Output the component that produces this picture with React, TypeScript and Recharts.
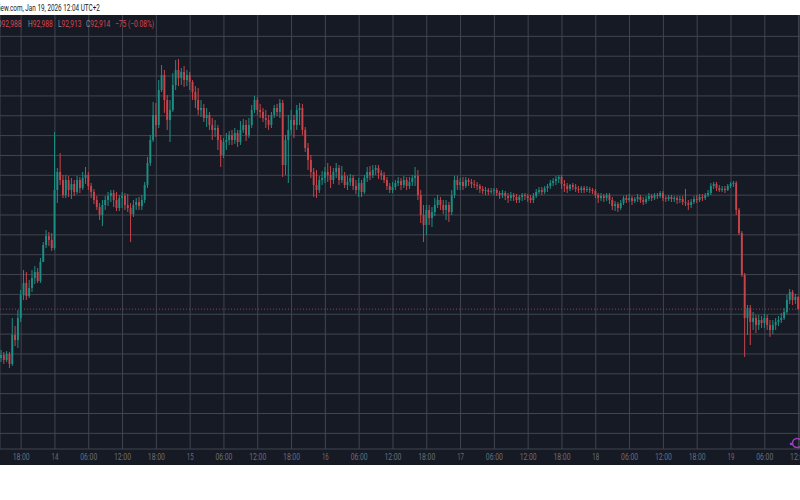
import React from 'react';
import { ComposedChart, Bar, XAxis, YAxis, CartesianGrid, ReferenceLine } from 'recharts';

// 30-minute candles, time in hours from Jan 13 18:00 (UTC+2)
const times: number[] = Array.from({ length: 284 }, (_, i) => -3.5 + 0.5 * i);

const opens = [
  92299, 92337, 92274, 92350, 92224, 92589, 92526, 92803, 93093, 93244,
  93080, 93181, 93307, 93383, 93269, 93509, 93722, 93835, 93785, 93684,
  94415, 94642, 94541, 94352, 94541, 94415, 94491, 94390, 94541, 94440,
  94566, 94604, 94465, 94390, 94289, 94201, 94100, 94226, 94289, 94339,
  94377, 94289, 94188, 94314, 94339, 94226, 94188, 94113, 94226, 94264,
  94213, 94289, 94478, 94755, 95045, 95360, 95234, 95674, 95863, 95549,
  95297, 95423, 95737, 95926, 95825, 95901, 95800, 95863, 95775, 95649,
  95549, 95423, 95448, 95322, 95360, 95234, 95171, 95196, 95045, 94856,
  95020, 95045, 95108, 95045, 95133, 95020, 95171, 95234, 95108, 95234,
  95423, 95549, 95423, 95398, 95322, 95297, 95234, 95360, 95448, 95398,
  95511, 94730, 95045, 95171, 95297, 95234, 95423, 95448, 95171, 94944,
  94793, 94642, 94478, 94415, 94541, 94566, 94642, 94604, 94541, 94642,
  94692, 94541, 94591, 94478, 94516, 94566, 94465, 94415, 94503, 94390,
  94566, 94642, 94604, 94667, 94692, 94629, 94604, 94541, 94465, 94415,
  94453, 94503, 94528, 94478, 94541, 94465, 94516, 94566, 94591, 94352,
  94100, 93974, 94163, 94062, 94138, 94226, 94289, 94226, 94163, 94226,
  94138, 94352, 94541, 94478, 94516, 94465, 94541, 94516, 94491, 94478,
  94465, 94428, 94402, 94415, 94390, 94402, 94415, 94377, 94352, 94377,
  94339, 94314, 94352, 94327, 94289, 94327, 94352, 94339, 94314, 94289,
  94339, 94390, 94415, 94390, 94440, 94465, 94503, 94528, 94554, 94579,
  94491, 94465, 94428, 94478, 94453, 94428, 94415, 94440, 94415, 94428,
  94415, 94402, 94352, 94314, 94339, 94314, 94352, 94289, 94213, 94239,
  94188, 94251, 94314, 94289, 94314, 94276, 94302, 94327, 94289, 94264,
  94302, 94339, 94314, 94352, 94339, 94377, 94314, 94302, 94327, 94302,
  94314, 94289, 94302, 94264, 94251, 94226, 94264, 94302, 94289, 94327,
  94314, 94352, 94377, 94465, 94491, 94440, 94415, 94428, 94415, 94465,
  94491, 94503, 94163, 93873, 93345, 92803, 92929, 92753, 92803, 92715,
  92778, 92740, 92803, 92715, 92652, 92715, 92753, 92778, 92803, 92879,
  93030, 93131, 93030, 93068,
];

const highs = [
  92400, 92375, 92387, 92375, 92803, 92702, 92904, 93156, 93408, 93383,
  93282, 93408, 93458, 93433, 93559, 93760, 93911, 93886, 93873, 95146,
  94692, 94881, 94604, 94604, 94591, 94566, 94541, 94591, 94579, 94642,
  94705, 94642, 94503, 94428, 94339, 94251, 94289, 94339, 94390, 94415,
  94415, 94390, 94352, 94390, 94377, 94365, 94251, 94289, 94314, 94327,
  94352, 94516, 94831, 95108, 95524, 95511, 95800, 95989, 95926, 95611,
  95549, 95888, 96052, 96065, 95951, 95976, 95926, 95901, 95800, 95724,
  95699, 95549, 95499, 95448, 95398, 95322, 95297, 95234, 95108, 95070,
  95133, 95158, 95171, 95196, 95171, 95284, 95310, 95297, 95322, 95486,
  95599, 95586, 95499, 95448, 95423, 95360, 95398, 95486, 95499, 95562,
  95549, 95108, 95360, 95423, 95360, 95486, 95511, 95499, 95209, 95007,
  94856, 94692, 94667, 94591, 94654, 94705, 94755, 94717, 94692, 94755,
  94730, 94717, 94642, 94591, 94617, 94604, 94541, 94566, 94541, 94604,
  94705, 94717, 94730, 94730, 94730, 94667, 94642, 94579, 94503, 94516,
  94541, 94579, 94566, 94591, 94579, 94579, 94604, 94705, 94667, 94415,
  94226, 94226, 94226, 94201, 94314, 94352, 94327, 94289, 94289, 94264,
  94415, 94591, 94591, 94566, 94579, 94579, 94566, 94554, 94541, 94516,
  94491, 94465, 94453, 94440, 94440, 94440, 94440, 94402, 94415, 94402,
  94377, 94390, 94377, 94365, 94352, 94377, 94377, 94365, 94352, 94377,
  94428, 94453, 94453, 94465, 94491, 94541, 94566, 94591, 94604, 94604,
  94541, 94503, 94491, 94503, 94491, 94465, 94465, 94465, 94465, 94453,
  94440, 94428, 94377, 94377, 94365, 94377, 94377, 94327, 94276, 94264,
  94289, 94339, 94352, 94365, 94339, 94327, 94365, 94352, 94327, 94339,
  94377, 94365, 94377, 94377, 94402, 94402, 94339, 94352, 94352, 94339,
  94339, 94339, 94339, 94428, 94289, 94302, 94339, 94352, 94365, 94365,
  94377, 94415, 94503, 94516, 94516, 94478, 94465, 94465, 94491, 94516,
  94528, 94528, 94188, 93898, 93370, 92967, 92967, 92879, 92841, 92841,
  92828, 92854, 92841, 92778, 92778, 92803, 92828, 92866, 92929, 93093,
  93169, 93156, 93106, 93080,
];

const lows = [
  92249, 92224, 92249, 92173, 92198, 92450, 92425, 92753, 93030, 93030,
  93055, 93131, 93232, 93244, 93244, 93597, 93684, 93710, 93647, 93660,
  94251, 94478, 94314, 94314, 94327, 94302, 94339, 94365, 94377, 94415,
  94491, 94415, 94314, 94239, 94163, 94037, 93961, 94163, 94213, 94264,
  94201, 94150, 94150, 94188, 94163, 94138, 93760, 94075, 94163, 94163,
  94163, 94251, 94440, 94717, 95020, 95083, 95196, 95649, 95386, 95171,
  95020, 95398, 95674, 95724, 95737, 95712, 95724, 95674, 95549, 95448,
  95360, 95335, 95272, 95209, 95171, 95045, 95083, 94919, 94705, 94818,
  94919, 94982, 94982, 94995, 94957, 94982, 95133, 95032, 95070, 95196,
  95386, 95360, 95322, 95272, 95196, 95171, 95196, 95322, 95347, 95322,
  94579, 94604, 94503, 95108, 95070, 95171, 95234, 95108, 94894, 94667,
  94566, 94327, 94314, 94377, 94478, 94503, 94516, 94440, 94491, 94566,
  94478, 94503, 94440, 94415, 94465, 94415, 94365, 94327, 94327, 94365,
  94516, 94541, 94566, 94604, 94554, 94541, 94503, 94415, 94377, 94377,
  94415, 94465, 94415, 94440, 94415, 94428, 94465, 94465, 94289, 93999,
  93760, 93848, 93974, 93949, 94087, 94188, 94163, 94113, 94037, 94012,
  94100, 94314, 94415, 94415, 94415, 94440, 94465, 94440, 94440, 94415,
  94377, 94365, 94352, 94352, 94365, 94352, 94339, 94302, 94314, 94289,
  94251, 94276, 94276, 94251, 94251, 94276, 94289, 94264, 94251, 94251,
  94314, 94365, 94352, 94365, 94390, 94428, 94465, 94478, 94503, 94428,
  94390, 94377, 94402, 94415, 94390, 94377, 94377, 94377, 94390, 94377,
  94365, 94314, 94251, 94276, 94264, 94276, 94239, 94163, 94150, 94138,
  94163, 94226, 94251, 94264, 94226, 94251, 94264, 94251, 94226, 94239,
  94276, 94276, 94289, 94302, 94314, 94276, 94264, 94276, 94264, 94264,
  94239, 94251, 94226, 94213, 94163, 94188, 94239, 94251, 94264, 94276,
  94289, 94327, 94352, 94428, 94402, 94390, 94390, 94377, 94402, 94440,
  94453, 94100, 93848, 93320, 92312, 92589, 92463, 92652, 92614, 92652,
  92677, 92677, 92652, 92564, 92602, 92652, 92702, 92740, 92778, 92854,
  92979, 92967, 92979, 92904,
];

const closes = [
  92337, 92274, 92350, 92224, 92589, 92526, 92803, 93093, 93244, 93080,
  93181, 93307, 93383, 93269, 93509, 93722, 93835, 93785, 93684, 94415,
  94642, 94541, 94352, 94541, 94415, 94491, 94390, 94541, 94440, 94566,
  94604, 94465, 94390, 94289, 94201, 94100, 94226, 94289, 94339, 94377,
  94289, 94188, 94314, 94339, 94226, 94188, 94113, 94226, 94264, 94213,
  94289, 94478, 94755, 95045, 95360, 95234, 95674, 95863, 95549, 95297,
  95423, 95737, 95926, 95825, 95901, 95800, 95863, 95775, 95649, 95549,
  95423, 95448, 95322, 95360, 95234, 95171, 95196, 95045, 94856, 95020,
  95045, 95108, 95045, 95133, 95020, 95171, 95234, 95108, 95234, 95423,
  95549, 95423, 95398, 95322, 95297, 95234, 95360, 95448, 95398, 95511,
  94730, 95045, 95171, 95297, 95234, 95423, 95448, 95171, 94944, 94793,
  94642, 94478, 94415, 94541, 94566, 94642, 94604, 94541, 94642, 94692,
  94541, 94591, 94478, 94516, 94566, 94465, 94415, 94503, 94390, 94566,
  94642, 94604, 94667, 94692, 94629, 94604, 94541, 94465, 94415, 94453,
  94503, 94528, 94478, 94541, 94465, 94516, 94566, 94591, 94352, 94100,
  93974, 94163, 94062, 94138, 94226, 94289, 94226, 94163, 94226, 94138,
  94352, 94541, 94478, 94516, 94465, 94541, 94516, 94491, 94478, 94465,
  94428, 94402, 94415, 94390, 94402, 94415, 94377, 94352, 94377, 94339,
  94314, 94352, 94327, 94289, 94327, 94352, 94339, 94314, 94289, 94339,
  94390, 94415, 94390, 94440, 94465, 94503, 94528, 94554, 94579, 94491,
  94465, 94428, 94478, 94453, 94428, 94415, 94440, 94415, 94428, 94415,
  94402, 94352, 94314, 94339, 94314, 94352, 94289, 94213, 94239, 94188,
  94251, 94314, 94289, 94314, 94276, 94302, 94327, 94289, 94264, 94302,
  94339, 94314, 94352, 94339, 94377, 94314, 94302, 94327, 94302, 94314,
  94289, 94302, 94264, 94251, 94226, 94264, 94302, 94289, 94327, 94314,
  94352, 94377, 94465, 94491, 94440, 94415, 94428, 94415, 94465, 94491,
  94503, 94163, 93873, 93345, 92803, 92929, 92753, 92803, 92715, 92778,
  92740, 92803, 92715, 92652, 92715, 92753, 92778, 92803, 92879, 93030,
  93131, 93030, 93068, 92914,
];

const lastPrice = 92914;
const priceTicks = [
  91350, 91600, 91850, 92100, 92350, 92600, 92850, 93100, 93350, 93600, 93850,
  94100, 94350, 94600, 94850, 95100, 95350, 95600, 95850, 96100, 96350,
];
const priceDomain = [91153, 96619];

const xTickTimes = [0, 6, 12, 18, 24, 30, 36, 42, 48, 54, 60, 66, 72, 78, 84, 90, 96, 102, 108, 114, 120, 126, 132, 138];
const xTickLabels = [
  '18:00', '14', '06:00', '12:00', '18:00', '15', '06:00', '12:00', '18:00', '16', '06:00', '12:00',
  '18:00', '17', '06:00', '12:00', '18:00', '18', '06:00', '12:00', '18:00', '19', '06:00', '12:00',
];

const headerLabels = ['O', 'H', 'L', 'C'];
const headerValues = ['92,988', '92,988', '92,913', '92,914'];
const headerChange = '\u221275 (\u22120.08%)';
const siteLine = 'iew.com, Jan 19, 2026 12:04 UTC+2';

const UP = '#1c8f84';
const DOWN = '#c8444b';
const BG = '#161a25';
const GRID = '#41454f';
const FONT = 'Roboto, "Liberation Sans", sans-serif';

const rows = times.map((t, i) => {
  const o = opens[i];
  const c = closes[i];
  const h = Math.max(highs[i], o, c);
  const l = Math.min(lows[i], o, c);
  return { t, o, h, l, c, range: [l, h] };
});

const Candle = (props: any) => {
  const { x, y, width, height, payload } = props;
  if (!payload || x == null || y == null) return null;
  const { o, h, l, c } = payload;
  const top = Math.min(y, y + height);
  const bot = Math.max(y, y + height);
  const span = h - l || 1;
  const py = (v: number) => top + ((h - v) / span) * (bot - top);
  const cx = x + width / 2;
  const color = c >= o ? UP : DOWN;
  const bTop = py(Math.max(o, c));
  const bBot = py(Math.min(o, c));
  const bw = 1.9;
  return (
    <g>
      <line x1={cx} x2={cx} y1={top} y2={bot} stroke={color} strokeWidth={1} />
      <rect x={cx - bw / 2} y={bTop} width={bw} height={Math.max(1, bBot - bTop)} fill={color} />
    </g>
  );
};

const TimeTick = (props: any) => {
  const { x, y, payload } = props;
  const idx = xTickTimes.indexOf(payload.value);
  if (idx < 0) return null;
  const label = xTickLabels[idx];
  return (
    <text
      x={x}
      y={y + 11}
      textAnchor="middle"
      fontSize={8.5}
      fill="#6b6e78"
      fontFamily={FONT}
      textLength={label.length * 3.4}
      lengthAdjust="spacingAndGlyphs"
    >
      {label}
    </text>
  );
};

// left edge of each "label+value" group in the legend line
const headerX = [-3, 28, 58, 86];
const SX = 0.74;

export default function App() {
  return (
    <div style={{ position: 'fixed', left: 0, top: 0, width: 800, height: 500, background: '#ffffff', overflow: 'hidden' }}>
      <div style={{ position: 'absolute', left: 0, top: 15, width: 800, height: 450, background: BG }}>
        <ComposedChart width={800} height={450} data={rows} margin={{ top: 0, right: 0, bottom: 0, left: 0 }}>
          <CartesianGrid stroke={GRID} strokeWidth={1} horizontalValues={priceTicks} />
          <XAxis
            dataKey="t"
            type="category"
            ticks={xTickTimes}
            interval={0}
            height={16}
            tickSize={0}
            tickMargin={0}
            tickLine={false}
            axisLine={{ stroke: GRID }}
            tick={<TimeTick />}
          />
          <YAxis hide type="number" domain={priceDomain} ticks={priceTicks} interval={0} allowDataOverflow />
          <ReferenceLine y={lastPrice} stroke="#a83a44" strokeDasharray="1 2" strokeWidth={1} />
          <Bar dataKey="range" shape={<Candle />} barSize={2} isAnimationActive={false} />
        </ComposedChart>
      </div>
      <svg width={800} height={500} style={{ position: 'absolute', left: 0, top: 0, pointerEvents: 'none' }}>
        <text transform="translate(-1,11) scale(0.67,1)" fontSize={9.5} fill="#131722" fontFamily={FONT}>
          {siteLine}
        </text>
        {headerLabels.map((lab, i) => (
          <text key={lab} transform={`translate(${headerX[i]},27) scale(${SX},1)`} fontSize={9} fontFamily={FONT}>
            <tspan fill="#8a8d96">{lab}</tspan>
            <tspan fill="#d8464f">{headerValues[i]}</tspan>
          </text>
        ))}
        <text transform={`translate(115,27) scale(${SX},1)`} fontSize={9} fill="#d8464f" fontFamily={FONT}>
          {headerChange}
        </text>
        <circle cx={797} cy={443} r={4.5} fill="none" stroke="#a23bb5" strokeWidth={1.6} />
        <circle cx={791} cy={444} r={1.3} fill="#7b4fd0" />
      </svg>
    </div>
  );
}
